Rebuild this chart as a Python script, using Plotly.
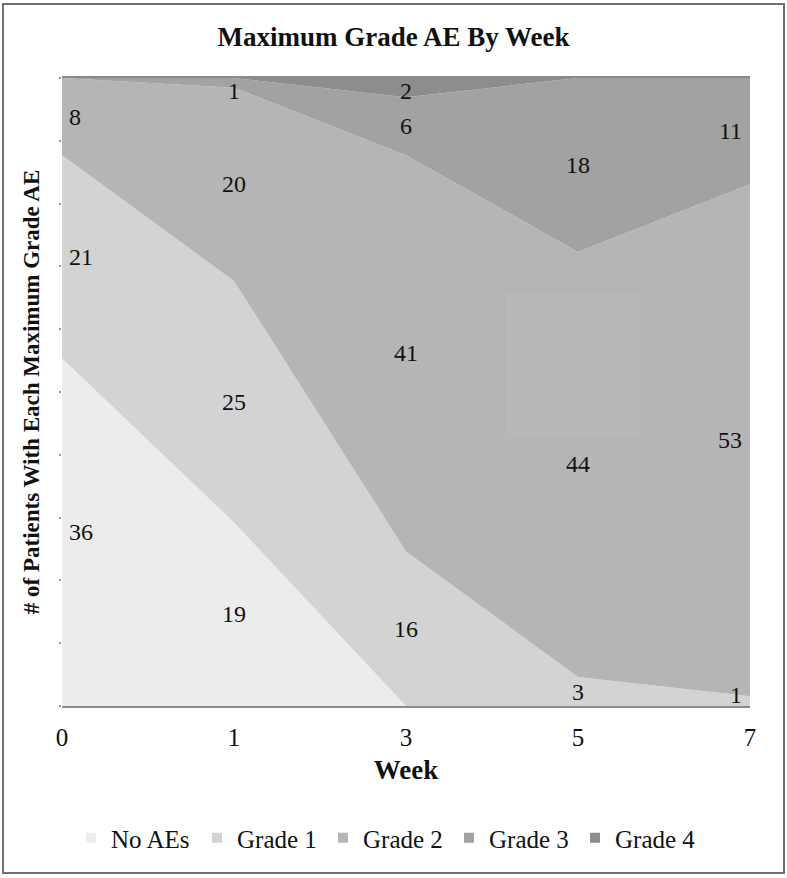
import plotly.graph_objects as go

weeks = ["0", "1", "3", "5", "7"]
series_names = ["No AEs", "Grade 1", "Grade 2", "Grade 3", "Grade 4"]
no_aes = [36, 19, 0, 0, 0]
grade1 = [21, 25, 16, 3, 1]
grade2 = [8, 20, 41, 44, 53]
grade3 = [0, 1, 6, 18, 11]
grade4 = [0, 0, 2, 0, 0]
colors = ["#ececec", "#d3d3d3", "#b5b5b5", "#a2a2a2", "#8d8d8d"]

all_series = [no_aes, grade1, grade2, grade3, grade4]
SERIF = "Liberation Serif, Times New Roman, serif"

fig = go.Figure()
for name, vals, col in zip(series_names, all_series, colors):
    fig.add_trace(go.Scatter(
        x=weeks, y=vals, name=name, mode="lines", stackgroup="one",
        groupnorm="percent", line=dict(width=0, color=col), fillcolor=col,
        showlegend=False, hoverinfo="skip"))
# legend markers
for name, col in zip(series_names, colors):
    fig.add_trace(go.Scatter(
        x=[None], y=[None], mode="markers", name=name,
        marker=dict(symbol="square", size=10, color=col)))

# data labels at middle of each band
totals = [sum(s[i] for s in all_series) for i in range(len(weeks))]
annotations = []
for i, w in enumerate(weeks):
    cum = 0.0
    for vals in all_series:
        v = vals[i]
        lo = cum
        cum += v / totals[i] * 100
        if v == 0:
            continue
        mid = min(max((lo + cum) / 2, 1.7), 97.9)
        if i == 0:
            xa, xs = "left", 5
        elif i == len(weeks) - 1:
            xa, xs = "right", -6
        else:
            xa, xs = "center", 0
        annotations.append(dict(
            x=i, y=mid, xref="x", yref="y", text=str(v), showarrow=False,
            xanchor=xa, xshift=xs,
            font=dict(family=SERIF, size=24, color="#111")))

fig.update_layout(
    width=787, height=878,
    margin=dict(l=62, r=37, t=78, b=172),
    paper_bgcolor="white", plot_bgcolor="white",
    title=dict(text="<b>Maximum Grade AE By Week</b>", x=0.5, xanchor="center",
               xref="container", y=1 - 37 / 878, yanchor="middle",
               font=dict(family=SERIF, size=27, color="#111")),
    xaxis=dict(type="category", range=[0, 4], showgrid=False,
               showline=True, linecolor="#8a8a8a", linewidth=2, mirror=True,
               ticks="", ticklabelstandoff=8,
               tickfont=dict(family=SERIF, size=25, color="#111"),
               title=dict(text="<b>Week</b>", standoff=10,
                          font=dict(family=SERIF, size=27, color="#111"))),
    yaxis=dict(range=[0, 100], dtick=10, showgrid=False, showline=False,
               ticks="outside", ticklen=2, tickcolor="#9a9a9a", tickwidth=2,
               showticklabels=False, zeroline=False,
               title=dict(text="<b># of Patients With Each Maximum Grade AE</b>",
                          standoff=12,
                          font=dict(family=SERIF, size=23, color="#111"))),
    legend=dict(orientation="h", x=(386 - 62) / 688, xanchor="center",
                y=(706 - 838) / 628, yanchor="middle", traceorder="normal",
                font=dict(family=SERIF, size=25, color="#111"),
                itemwidth=30, entrywidth=81, tracegroupgap=0),
    annotations=annotations,
    shapes=[
        dict(type="rect", xref="paper", yref="paper",
             x0=(3 - 62) / 688, x1=(784 - 62) / 688,
             y0=(706 - 873) / 628, y1=(706 - 4) / 628,
             line=dict(color="#707070", width=2), fillcolor="rgba(0,0,0,0)"),
        dict(type="rect", xref="paper", yref="paper", layer="above",
             x0=(506 - 62) / 688, x1=(640 - 62) / 688,
             y0=(706 - 438) / 628, y1=(706 - 293) / 628,
             line=dict(width=0), fillcolor="rgba(255,255,255,0.05)"),
    ],
)

fig.write_html("out.html", config={"displayModeBar": False},
               post_script="document.body.style.margin='0';")
